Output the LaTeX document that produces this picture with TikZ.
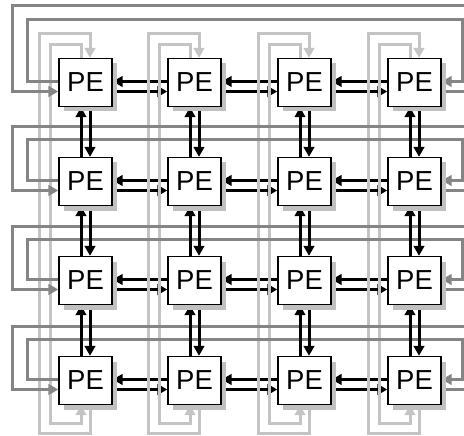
\documentclass[tikz,border=0pt]{standalone}
\usepackage{fontspec}
\setmainfont{Liberation Sans}
\usetikzlibrary{arrows.meta,shadows,calc}
\pgfdeclarelayer{lA}\pgfdeclarelayer{lB}\pgfdeclarelayer{lC}\pgfdeclarelayer{lD}
\pgfsetlayers{lA,lB,lC,lD,main}
\definecolor{dkgray}{HTML}{858585}
\definecolor{ltgray}{HTML}{C4C4C4}
\definecolor{shgray}{HTML}{C0C0C0}
\tikzset{
  pe/.style={draw=black, line width=1.3pt, fill=white, minimum width=53pt, minimum height=48pt,
    inner sep=0pt, font=\fontsize{27.5}{28}\selectfont,
    drop shadow={shadow xshift=5pt, shadow yshift=-5pt, fill=shgray, opacity=1}},
  tip/.tip={Triangle[length=10pt,width=10.5pt]},
  blk/.style={draw=black, line width=3pt, -tip},
  dk/.style={draw=dkgray, line width=3pt, -tip},
  lt/.style={draw=ltgray, line width=3pt, -tip},
}
\begin{document}
\begin{tikzpicture}[x=1pt,y=-1pt]
\useasboundingbox (0,0) rectangle (464,436);
\clip (0,0) rectangle (464,436);
% PE nodes
\foreach \r/\t in {1/59,2/158,3/257,4/357}{
  \foreach \c/\l in {1/59,2/168,3/278,4/388}{
    \node[pe] (p\r\c) at (\l+26.5,\t+23.5) {PE};
  }
}
% black horizontal neighbour arrows
\begin{pgfonlayer}{lA}
\foreach \r in {1,2,3,4}{
  \foreach \c/\n in {1/2,2/3,3/4}{
    \draw[blk] ([yshift=1pt]p\r\n.west) -- ([yshift=1pt]p\r\c.east);
    \draw[blk] ([yshift=-9pt]p\r\c.east) -- ([yshift=-9pt]p\r\n.west);
  }
}
\end{pgfonlayer}
% light gray column wrap-arounds
\begin{pgfonlayer}{lB}
\foreach \c/\l in {1/59,2/168,3/278,4/388}{
  \draw[lt] ([xshift=4.5pt]p4\c.south) |- (\l-20,433) -- (\l-20,34) -| ([xshift=4.5pt]p1\c.north);
  \draw[lt] ([xshift=-4.5pt]p1\c.north) |- (\l-9,45) -- (\l-9,423) -| ([xshift=-4.5pt]p4\c.south);
}
\end{pgfonlayer}
% dark gray row wrap-arounds
\begin{pgfonlayer}{lC}
\foreach \r/\yi/\yo in {1/20/6,2/140/127,3/239/226,4/339/326}{
  \draw[dk] ([yshift=1pt]p\r1.west) -| (27,\yi) -- (462,\yi) |- ([yshift=1pt]p\r4.east);
  \draw[dk] ([yshift=-9pt]p\r4.east) -| (472,\yo) -- (12,\yo) |- ([yshift=-9pt]p\r1.west);
}
\end{pgfonlayer}
% black vertical neighbour arrows
\begin{pgfonlayer}{lD}
\foreach \c in {1,2,3,4}{
  \foreach \r/\n in {1/2,2/3,3/4}{
    \draw[blk] ([xshift=-4.5pt]p\n\c.north) -- ([xshift=-4.5pt]p\r\c.south);
    \draw[blk] ([xshift=4.5pt]p\r\c.south) -- ([xshift=4.5pt]p\n\c.north);
  }
}
\end{pgfonlayer}
\end{tikzpicture}
\end{document}
